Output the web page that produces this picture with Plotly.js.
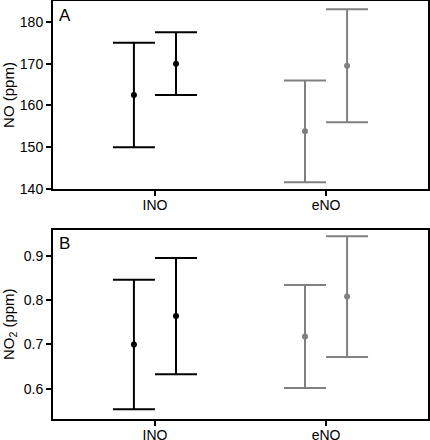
<!DOCTYPE html>
<html><head><meta charset="utf-8">
<script src="https://cdn.plot.ly/plotly-3.0.1.min.js"></script>
<style>html,body{margin:0;padding:0;background:#fff}#chart{width:430px;height:440px}</style>
</head><body><div id="chart"></div>
<script>
const categories = ['INO', 'eNO'];
// Panel A: NO (ppm), two measurements per category
const noMean1 = [162.5, 153.8];
const noErr1  = [12.5, 12.2];
const noMean2 = [170.0, 169.5];
const noErr2  = [7.5, 13.5];
// Panel B: NO2 (ppm)
const no2Mean1 = [0.700, 0.718];
const no2Err1  = [0.146, 0.116];
const no2Mean2 = [0.764, 0.808];
const no2Err2  = [0.131, 0.136];

const catColors = ['#000000', '#808080'];

const traces = [];
function addPanel(means, errs, group, xa, ya) {
  categories.forEach((c, i) => {
    traces.push({
      type: 'scatter', mode: 'markers',
      x: [c], y: [means[i]],
      xaxis: xa, yaxis: ya,
      offsetgroup: group,
      marker: {color: catColors[i], size: 6},
      error_y: {type: 'data', array: [errs[i]], visible: true, color: catColors[i], thickness: 2, width: 21},
      showlegend: false, hoverinfo: 'skip'
    });
  });
}
addPanel(noMean1, noErr1, '1', 'x', 'y');
addPanel(noMean2, noErr2, '2', 'x', 'y');
addPanel(no2Mean1, no2Err1, '1', 'x2', 'y2');
addPanel(no2Mean2, no2Err2, '2', 'x2', 'y2');

const FAM = 'Liberation Sans, Arial, sans-serif';
const tickFont = {family: FAM, size: 14, color: '#000'};
const axisCommon = {
  showline: true, linecolor: '#000', linewidth: 2, mirror: true,
  ticks: 'outside', ticklen: 5, tickwidth: 2, tickcolor: '#000',
  showgrid: false, zeroline: false, tickfont: tickFont
};
const layout = {
  width: 430, height: 440,
  margin: {l: 53, r: 2, t: 1, b: 21},
  paper_bgcolor: '#fff', plot_bgcolor: '#fff',
  scattermode: 'group', scattergap: 0.508,
  font: tickFont,
  xaxis: Object.assign({}, axisCommon, {type: 'category', anchor: 'y', range: [-0.596, 1.596], domain: [0, 1], ticklabelstandoff: -3}),
  yaxis: Object.assign({}, axisCommon, {anchor: 'x', domain: [0.5502, 1], range: [140, 185], tickvals: [140, 150, 160, 170, 180],
    title: {text: 'NO (ppm)', font: {family: FAM, size: 15, color: '#000'}, standoff: 6}}),
  xaxis2: Object.assign({}, axisCommon, {type: 'category', anchor: 'y2', range: [-0.596, 1.596], domain: [0, 1], ticklabelstandoff: -3}),
  yaxis2: Object.assign({}, axisCommon, {anchor: 'x2', domain: [0, 0.4533], range: [0.532, 0.959], tickvals: [0.6, 0.7, 0.8, 0.9], ticktext: ['0.6', '0.7', '0.8', '0.9'],
    title: {text: 'NO<sub>2</sub> (ppm)', font: {family: FAM, size: 15, color: '#000'}, standoff: 6}}),
  annotations: [
    {text: 'A', xref: 'x domain', yref: 'y domain', x: 0.01, y: 0.985, xanchor: 'left', yanchor: 'top', showarrow: false, font: {family: FAM, size: 17, color: '#000'}},
    {text: 'B', xref: 'x2 domain', yref: 'y2 domain', x: 0.01, y: 0.985, xanchor: 'left', yanchor: 'top', showarrow: false, font: {family: FAM, size: 17, color: '#000'}}
  ]
};
Plotly.newPlot('chart', traces, layout, {staticPlot: true, displayModeBar: false});
</script>
</body></html>
